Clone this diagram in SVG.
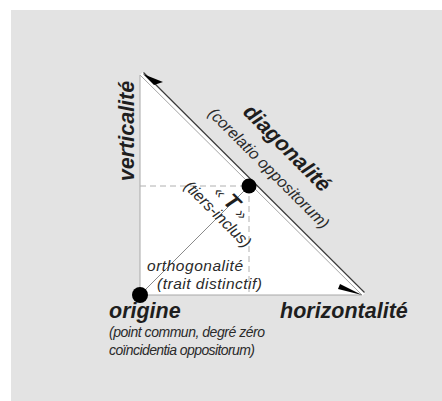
<svg xmlns="http://www.w3.org/2000/svg" width="442" height="401" viewBox="0 0 442 401">
<style>
.b{font-family:"Liberation Sans",Arial,sans-serif;font-weight:bold;font-style:italic;font-size:21.5px;fill:#1e1e1e}
.i{font-family:"Liberation Sans",Arial,sans-serif;font-style:italic;font-size:16px;fill:#2a2a2a}
.m{font-family:"Liberation Sans",Arial,sans-serif;font-style:italic;font-size:15.5px;fill:#2a2a2a}
.s{font-family:"Liberation Sans",Arial,sans-serif;font-style:italic;font-size:14px;fill:#2a2a2a}
.dash{stroke:#b0b0b0;stroke-width:1;stroke-dasharray:6 4;fill:none}
</style>
<rect x="0" y="0" width="442" height="401" fill="#ffffff"/>
<rect x="11" y="10" width="431" height="391" fill="#e3e3e3"/>
<g id="triangle">
<polygon points="140,75 140,295 362,295" fill="#ffffff"/>
<line x1="141.5" y1="73.5" x2="364" y2="294" stroke="#ffffff" stroke-width="4"/>
<polyline points="362,295 140,295 140,75 362,295" fill="none" stroke="#a8a8a8" stroke-width="1"/>
</g>
<g id="connectors">
<line class="dash" x1="140" y1="186" x2="249" y2="186"/>
<line class="dash" x1="249" y1="186" x2="249" y2="295"/>
<line x1="140" y1="295" x2="249" y2="186" stroke="#8a8a8a" stroke-width="1"/>
<line x1="143.5" y1="72.5" x2="364.5" y2="292.5" stroke="#3a3a3a" stroke-width="1.2"/>
<polygon points="143,74 163,82 154,85" fill="#000"/>
<polygon points="362,295 340,284 338,289" fill="#000"/>
</g>
<g id="origine-dot"><circle cx="140" cy="295" r="8" fill="#000"/></g>
<g id="T-dot"><circle cx="249" cy="186" r="7.5" fill="#000"/></g>
<g id="verticalite"><text class="b" transform="translate(134,131) rotate(-90)" text-anchor="middle">verticalité</text></g>
<g id="diagonalite">
<text class="b" transform="translate(282,153) rotate(45)" text-anchor="middle">diagonalité</text>
<text class="i" transform="translate(265,172) rotate(45)" text-anchor="middle">(corelatio oppositorum)</text>
</g>
<g id="T">
<text class="i" transform="translate(227,207) rotate(45)" text-anchor="middle">« <tspan class="b">T</tspan> »</text>
<text class="i" transform="translate(214,218) rotate(45)" text-anchor="middle">(tiers-inclus)</text>
</g>
<g id="orthogonalite">
<text class="m" x="147" y="271" textLength="96" lengthAdjust="spacing">orthogonalité</text>
<text class="m" x="157" y="289" textLength="105" lengthAdjust="spacing">(trait distinctif)</text>
</g>
<g id="origine">
<text class="b" x="109" y="318">origine</text>
<text class="s" x="109" y="337" textLength="156" lengthAdjust="spacing">(point commun, degré zéro</text>
<text class="s" x="109" y="355" textLength="146" lengthAdjust="spacing">coïncidentia oppositorum)</text>
</g>
<g id="horizontalite"><text class="b" x="280" y="318">horizontalité</text></g>
</svg>
